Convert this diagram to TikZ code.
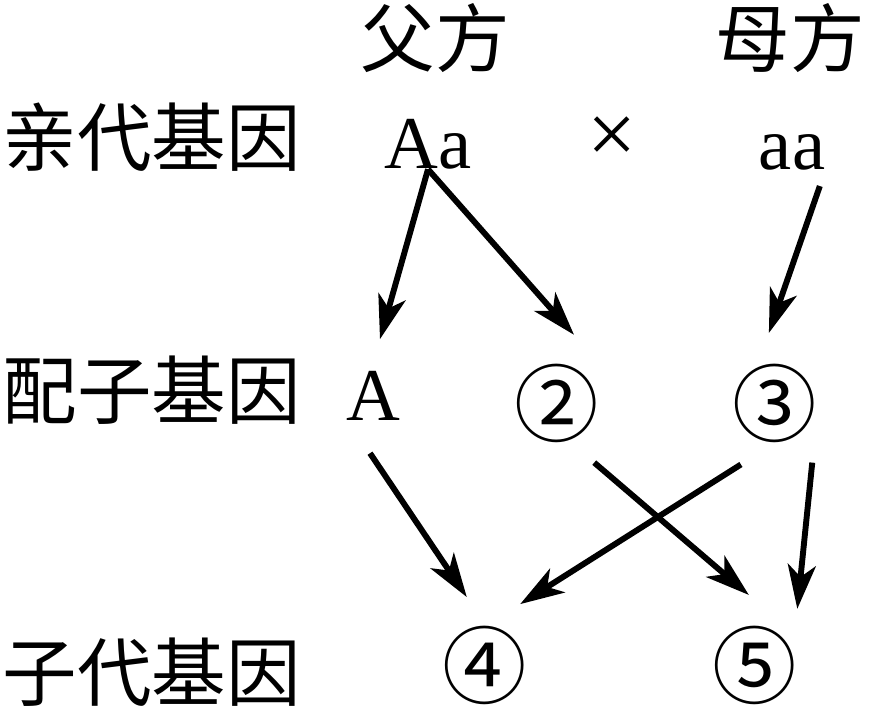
\documentclass[tikz,border=0pt]{standalone}
\usepackage{fontspec}
\setmainfont{Liberation Serif}
\newfontfamily\cjk{Noto Sans CJK SC}
\usetikzlibrary{arrows.meta}

\begin{document}
\begin{tikzpicture}[x=0.025cm,y=-0.025cm,
  lab/.style={inner sep=0pt,font=\fontsize{53}{53}\cjk},
  gene/.style={inner sep=0pt,font=\fontsize{53}{53}\selectfont},
  gam/.style={circle,inner sep=0pt,minimum size=3.5cm,font=\fontsize{60}{60}\cjk},
  arr/.style={-{Stealth[length=1.1cm,width=0.7cm,inset=0.3cm]},line width=4.2pt}]
  \useasboundingbox (0,0) rectangle (871,709);
  % \node at (152,20)[lab]{};
  \node(fa) at (435,38)[lab]{父方};
  \node(mo) at (790,38)[lab]{母方};
  \node(r1) at (152,137)[lab]{亲代基因};
  \node(r2) at (152,390)[lab]{配子基因};
  \node(r3) at (152,672)[lab]{子代基因};
  \node(f) at (428,144)[gene]{Aa};
  \node(x) at (612,140)[gene,font=\fontsize{62}{62}\selectfont]{×};
  \node(m) at (792,152)[gene]{aa};
  \node(g1) at (373,396)[gam,minimum size=2.85cm,font=\fontsize{53}{53}\selectfont]{A};
  \node(g2) at (557,403)[gam]{②};
  \node(g3) at (775,403)[gam]{③};
  \node(c4) at (485,665)[gam]{④};
  \node(c5) at (755,665)[gam]{⑤};
  \draw[arr](f.south) -- (g1.83);
  \draw[arr](f.south) -- (g2.76);
  \draw[arr,shorten <=12pt](m.south east) -- (g3.95);
  \draw[arr](g1.-93) -- (c4.105);
  \draw[arr](g2.-58) -- (c5.95);
  \draw[arr](g3.-119) -- (c4.60);
  \draw[arr](g3.-58) -- (c5.53);
\end{tikzpicture}
\end{document}
